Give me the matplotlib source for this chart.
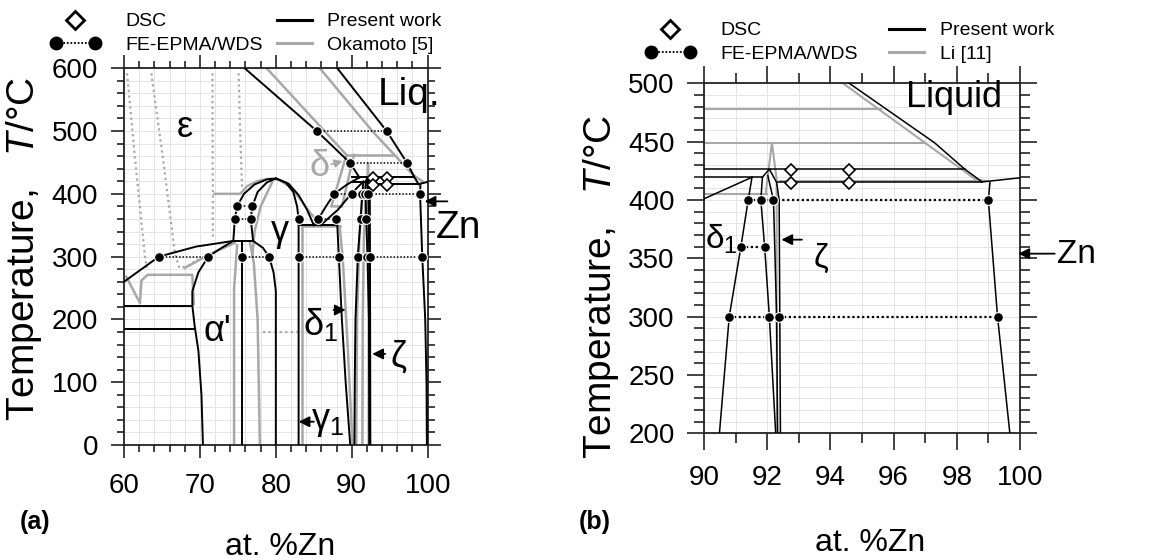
import matplotlib
matplotlib.use('Agg')
from matplotlib import pyplot as plt
from matplotlib.lines import Line2D
from matplotlib.legend_handler import HandlerLine2D
from matplotlib.ticker import MultipleLocator

plt.rcParams['font.family'] = ['Liberation Sans', 'DejaVu Sans']
plt.rcParams['mathtext.fontset'] = 'custom'
plt.rcParams['mathtext.rm'] = 'Liberation Sans'
plt.rcParams['mathtext.it'] = 'Liberation Sans:italic'
plt.rcParams['mathtext.bf'] = 'Liberation Sans:bold'

GRAY = '#a8a8a8'

# phase boundaries, each a list of (at.% Zn, T / degC)
# ---- present work (black) ----
eps_liquidus = [(75.9, 600), (85.4, 500), (89.8, 449), (91.0, 426)]
zn_liquidus = [(88.1, 600), (94.6, 500), (97.3, 449), (98.25, 426.5), (98.8, 415.5)]
zn_melt = [(98.8, 415.5), (100, 419)]
line_427 = [(90.0, 426.5), (98.25, 426.5)]
line_415 = [(92.3, 415), (98.8, 415)]
line_419 = [(90.0, 419.5), (91.85, 419.5)]
zn_solvus = [(99.05, 415), (99.0, 400), (99.29, 300), (99.68, 200), (99.85, 100), (99.9, 0)]
delta_left = [(91.0, 426), (89.4, 415), (87.7, 400), (86.6, 380), (85.6, 360), (85.0, 350)]
delta1_liq = [(85.9, 350), (88.2, 375), (90.0, 401), (91.52, 419.5)]
delta1_left = [(91.52, 419.5), (91.4, 400), (91.17, 360), (90.8, 300), (90.49, 200), (90.4, 100), (90.35, 0)]
delta1_right = [(91.85, 419.5), (91.8, 400), (91.92, 360), (92.07, 300), (92.27, 200), (92.32, 0)]
zeta_right = [(91.85, 419.5), (92.07, 426.5), (92.3, 415), (92.38, 400), (92.4, 300), (92.42, 200), (92.45, 0)]
zeta_left = [(92.02, 421), (92.2, 400), (92.3, 300), (92.33, 200), (92.36, 0)]
line_350 = [(83.0, 350), (88.1, 350)]
gamma1_right = [(88.1, 350), (88.3, 300), (88.7, 200), (89.2, 100), (89.8, 0)]
gamma_outer = [(74.4, 325), (74.6, 360), (74.9, 380), (75.8, 400), (77.2, 415), (78.8, 423),
               (80.0, 424.5), (81.3, 418), (82.3, 403), (82.8, 380), (83.0, 360), (83.0, 0)]
gamma_inner_left = [(77.0, 325), (76.7, 360), (76.9, 380), (77.6, 403), (78.8, 418), (80.0, 424.5)]
gamma_inner_right = [(80.0, 424.5), (81.7, 416), (83.0, 398), (84.1, 375), (85.0, 350)]
line_325 = [(74.4, 325), (77.0, 325)]
gamma_lower = [(77.0, 325), (78.3, 314), (79.1, 300), (79.7, 275), (80.0, 245), (80.0, 0)]
line_755 = [(75.5, 325), (75.5, 0)]
eps_boundary = [(60, 260), (64.6, 300), (69.5, 316), (74.4, 325)]
alpha_prime = [(74.4, 325), (72.6, 312), (71.1, 300), (69.8, 275), (69.0, 245), (69.0, 222),
               (69.3, 190), (69.8, 150), (70.2, 80), (70.4, 0)]
line_222 = [(60, 222), (69.0, 222)]
line_184 = [(60, 184), (69.3, 184)]

# ---- Okamoto [5] (gray, panel a) ----
oka_liq1 = [(78.8, 600), (89.3, 462)]
oka_liq2 = [(85.8, 600), (92.7, 500), (98.1, 430), (99.3, 420)]
oka_462 = [(89.3, 462), (95.6, 462)]
oka_delta1 = [(89.3, 462), (87.3, 380), (88.7, 380)]
oka_delta2 = [(90.3, 462), (88.7, 380)]
oka_gamma = [(71.9, 400), (75.3, 400), (76.2, 412), (77.5, 420), (79.0, 424), (80.3, 423),
             (81.8, 412), (83.2, 392), (84.5, 370), (85.6, 355)]
oka_gamma_in = [(76.9, 300), (77.2, 340), (78.0, 380), (79.5, 418)]
oka_745 = [(74.5, 0), (74.5, 250), (74.8, 300), (74.9, 318)]
oka_779 = [(77.9, 0), (77.6, 200), (77.1, 290), (76.6, 322)]
oka_eps = [(60.3, 268), (62.1, 226), (62.3, 262), (63.1, 271), (69.0, 271), (69.2, 224)]
oka_upper = [(68.0, 282), (71.5, 305), (74.6, 322)]
oka_835 = [(83.5, 348), (83.5, 0)]
oka_348 = [(83.5, 348), (88.4, 348)]
oka_886 = [(88.4, 348), (88.8, 300), (89.5, 150), (90.1, 0)]
oka_906 = [(90.6, 0), (90.7, 200), (91.0, 330), (91.4, 400), (91.6, 410)]
oka_914 = [(91.4, 0), (91.45, 200), (91.6, 330), (91.9, 405)]
oka_zeta = [(92.25, 0), (92.25, 300), (92.2, 420), (92.15, 449), (92.05, 420)]
oka_dot1 = [(60.4, 592), (61.5, 450), (62.76, 300), (63.0, 282)]
oka_dot2 = [(63.6, 592), (65.2, 450), (66.7, 305), (67.3, 282), (68.4, 285), (69.8, 296)]
oka_dot3 = [(71.65, 592), (71.7, 400), (71.7, 326)]
oka_dot4 = [(75.1, 592), (75.3, 500), (75.55, 410)]
oka_dot5 = [(78.3, 180), (83.4, 180)]

# ---- Li [11] (gray, panel b) ----
li_478 = [(90, 478), (95.6, 478)]
li_449 = [(90, 449), (97.0, 449)]
li_405 = [(90, 405), (92.0, 405)]
li_liquidus = [(94.4, 500), (98.6, 417.5), (98.9, 416.5)]
li_416 = [(92.4, 416.5), (99.0, 416.5)]
li_zeta = [(91.95, 405), (92.15, 449), (92.3, 418), (92.3, 300), (92.32, 200)]

# ---- FE-EPMA/WDS tie lines and DSC ----
ties_a = [
    [(85.4, 500), (94.6, 500)],
    [(89.8, 449), (97.3, 449)],
    [(87.7, 400), (90.0, 400)],
    [(91.4, 400), (91.8, 400), (92.19, 400), (99.0, 400)],
    [(74.9, 380), (76.9, 380)],
    [(74.6, 360), (76.7, 360)],
    [(83.0, 360)],
    [(85.6, 360), (87.9, 360)],
    [(91.17, 360), (91.92, 360)],
    [(64.6, 300), (71.1, 300)],
    [(75.5, 300), (79.1, 300)],
    [(83.0, 300), (88.3, 300)],
    [(90.8, 300), (92.07, 300)],
    [(92.4, 300), (99.29, 300)],
]
ties_b = [
    [(91.4, 400), (91.8, 400), (92.19, 400), (99.0, 400)],
    [(91.17, 360), (91.92, 360)],
    [(90.8, 300), (92.07, 300)],
    [(92.38, 300), (99.29, 300)],
]
dsc_x = [92.77, 92.77, 94.6, 94.6]
dsc_t = [425.7, 414.3, 425.7, 414.3]

present = [eps_liquidus, zn_liquidus, zn_melt, line_427, line_415, line_419, zn_solvus,
           delta_left, delta1_liq, delta1_left, delta1_right, zeta_right, zeta_left,
           line_350, gamma1_right, gamma_outer, gamma_inner_left, gamma_inner_right,
           line_325, gamma_lower, line_755, eps_boundary, alpha_prime, line_222, line_184]
okamoto = [oka_liq1, oka_liq2, oka_462, oka_delta1, oka_delta2, oka_gamma, oka_gamma_in,
           oka_745, oka_779, oka_eps, oka_upper, oka_835, oka_348, oka_886, oka_906,
           oka_914, oka_zeta]
okamoto_dotted = [oka_dot1, oka_dot2, oka_dot3, oka_dot4, oka_dot5]
li = [li_478, li_449, li_405, li_liquidus, li_416, li_zeta]
present_b = [zn_liquidus, zn_melt, line_427, line_415, line_419, zn_solvus, delta1_liq,
             delta1_left, delta1_right, zeta_right, zeta_left]


def xs(line):
    return [p[0] for p in line]


def ts(line):
    return [p[1] for p in line]


fig = plt.figure(figsize=(11.58, 5.6), dpi=100)
ax_a = fig.add_axes([0.1071, 0.2054, 0.2622, 0.6727])
ax_b = fig.add_axes([0.6079, 0.2262, 0.2729, 0.625])


def style_axes(ax, xlim, ylim, xmaj, xmin, ymaj, ymin, majlen, minlen, xpad, ypad):
    ax.set_xlim(*xlim)
    ax.set_ylim(*ylim)
    ax.xaxis.set_major_locator(MultipleLocator(xmaj))
    ax.xaxis.set_minor_locator(MultipleLocator(xmin))
    ax.yaxis.set_major_locator(MultipleLocator(ymaj))
    ax.yaxis.set_minor_locator(MultipleLocator(ymin))
    ax.grid(which='both', color='#e4e4e4', lw=0.7, zorder=0)
    ax.set_axisbelow(True)
    ax.tick_params(which='both', direction='out', top=True, right=True, width=1.2,
                   labelsize=20, color='#222222')
    ax.tick_params(which='major', length=majlen)
    ax.tick_params(which='minor', length=minlen)
    ax.tick_params(axis='x', which='major', pad=xpad)
    ax.tick_params(axis='y', which='major', pad=ypad)
    for s in ax.spines.values():
        s.set_linewidth(1.3)
        s.set_color('#222222')
    ax.set_xlabel('at. %Zn', fontsize=23)
    ax.set_ylabel('Temperature,   $\\it{T}$/°C', fontsize=28)


style_axes(ax_a, (60, 100), (0, 600), 10, 2, 100, 20, 9.5, 5, 11, 9)
style_axes(ax_b, (90, 100), (200, 500), 2, 1, 50, 10, 12.5, 7, 10, 8.5)
ax_a.xaxis.set_label_coords(0.514, -0.23)
ax_a.yaxis.set_label_coords(-0.262, 0.52)
ax_b.xaxis.set_label_coords(0.525, -0.27)
ax_b.yaxis.set_label_coords(-0.262, 0.42)

# panel (a)
for ln in okamoto:
    ax_a.plot(xs(ln), ts(ln), color=GRAY, lw=1.8, zorder=2)
for ln in okamoto_dotted:
    ax_a.plot(xs(ln), ts(ln), color=GRAY, lw=1.6, ls=(0, (1, 1.5)), zorder=2)
for ln in present:
    ax_a.plot(xs(ln), ts(ln), color='k', lw=1.4, zorder=3)
for tie in ties_a:
    ax_a.plot(xs(tie), ts(tie), color='k', lw=1.1, ls=(0, (1, 1.2)), marker='o', ms=7,
              mfc='k', mec='white', mew=0.8, zorder=4)
ax_a.plot(dsc_x, dsc_t, ls='none', marker='D', ms=6.5, mfc='white', mec='k', mew=1.2, zorder=5)

# panel (b)
for ln in li:
    ax_b.plot(xs(ln), ts(ln), color=GRAY, lw=1.5, zorder=2)
for ln in present_b:
    ax_b.plot(xs(ln), ts(ln), color='k', lw=1.1, zorder=3)
for tie in ties_b:
    ax_b.plot(xs(tie), ts(tie), color='k', lw=1.6, ls=(0, (1, 1.2)), marker='o', ms=7,
              mfc='k', mec='white', mew=0.8, zorder=4)
ax_b.plot(dsc_x, dsc_t, ls='none', marker='D', ms=6.5, mfc='white', mec='k', mew=1.2, zorder=5)

arrow = dict(arrowstyle='-|>', color='k', lw=1.3, mutation_scale=16, shrinkA=0, shrinkB=0)

# labels (a)
ax_a.text(68.0, 505, 'ε', fontsize=26, ha='center', va='center')
ax_a.text(97.6, 557, 'Liq.', fontsize=28, ha='center', va='center')
ax_a.text(80.6, 340, 'γ', fontsize=26, ha='center', va='center')
ax_a.text(85.7, 443, 'δ', fontsize=26, ha='center', va='center', color=GRAY)
ax_a.annotate('', xy=(88.8, 452), xytext=(87.3, 447),
              arrowprops=dict(arrowstyle='-|>', color=GRAY, lw=1.2, mutation_scale=12,
                              shrinkA=0, shrinkB=0))
ax_a.text(104.0, 345, 'Zn', fontsize=28, ha='center', va='center')
ax_a.annotate('', xy=(99.6, 388), xytext=(102.6, 388), arrowprops=arrow, annotation_clip=False)
ax_a.text(72.3, 180, "α'", fontsize=26, ha='center', va='center')
ax_a.text(85.9, 192, 'δ$_1$', fontsize=26, ha='center', va='center')
ax_a.annotate('', xy=(89.2, 215), xytext=(87.6, 215), arrowprops=arrow)
ax_a.text(96.1, 140, 'ζ', fontsize=26, ha='center', va='center')
ax_a.annotate('', xy=(92.7, 145), xytext=(94.4, 145), arrowprops=arrow)
ax_a.text(86.8, 37, 'γ$_1$', fontsize=26, ha='center', va='center')
ax_a.annotate('', xy=(83.0, 37), xytext=(85.0, 37), arrowprops=arrow)

# labels (b)
ax_b.text(97.9, 488, 'Liquid', fontsize=26, ha='center', va='center')
ax_b.text(90.55, 366, 'δ$_1$', fontsize=24, ha='center', va='center')
ax_b.text(93.7, 350, 'ζ', fontsize=24, ha='center', va='center')
ax_b.annotate('', xy=(92.45, 366), xytext=(93.1, 366), arrowprops=arrow)
ax_b.text(101.8, 353, 'Zn', fontsize=24, ha='center', va='center')
ax_b.annotate('', xy=(99.95, 354), xytext=(101.1, 354), arrowprops=arrow, annotation_clip=False)

fig.text(0.030, 0.068, '(a)', fontsize=18, fontweight='bold', ha='center', va='center')
fig.text(0.514, 0.068, '(b)', fontsize=18, fontweight='bold', ha='center', va='center')


def add_legend(ax, ref_label, x1, x2, ytop):
    dsc_h = Line2D([], [], ls='none', marker='D', ms=9, mfc='white', mec='k', mew=2)
    epma_h = Line2D([], [], color='k', ls=(0, (1, 1)), lw=1.3, marker='o', ms=9)
    leg1 = ax.legend([dsc_h, epma_h], ['DSC', 'FE-EPMA/WDS'], numpoints=2,
                     handler_map={dsc_h: HandlerLine2D(numpoints=1)},
                     loc='upper left', bbox_to_anchor=(x1, ytop), bbox_transform=fig.transFigure,
                     frameon=False, fontsize=14, handlelength=2.6, handletextpad=1.3,
                     labelspacing=0.3, borderpad=0, borderaxespad=0)
    ax.add_artist(leg1)
    pw_h = Line2D([], [], color='k', lw=2.2)
    ref_h = Line2D([], [], color=GRAY, lw=2.2)
    ax.legend([pw_h, ref_h], ['Present work', ref_label], loc='upper left',
              bbox_to_anchor=(x2, ytop), bbox_transform=fig.transFigure, frameon=False,
              fontsize=14, handlelength=1.8, handletextpad=0.8, labelspacing=0.3,
              borderpad=0, borderaxespad=0)


add_legend(ax_a, 'Okamoto [5]', 0.043, 0.239, 0.977)
add_legend(ax_b, 'Li [11]', 0.557, 0.768, 0.961)

fig.savefig('out.png', dpi=100)
